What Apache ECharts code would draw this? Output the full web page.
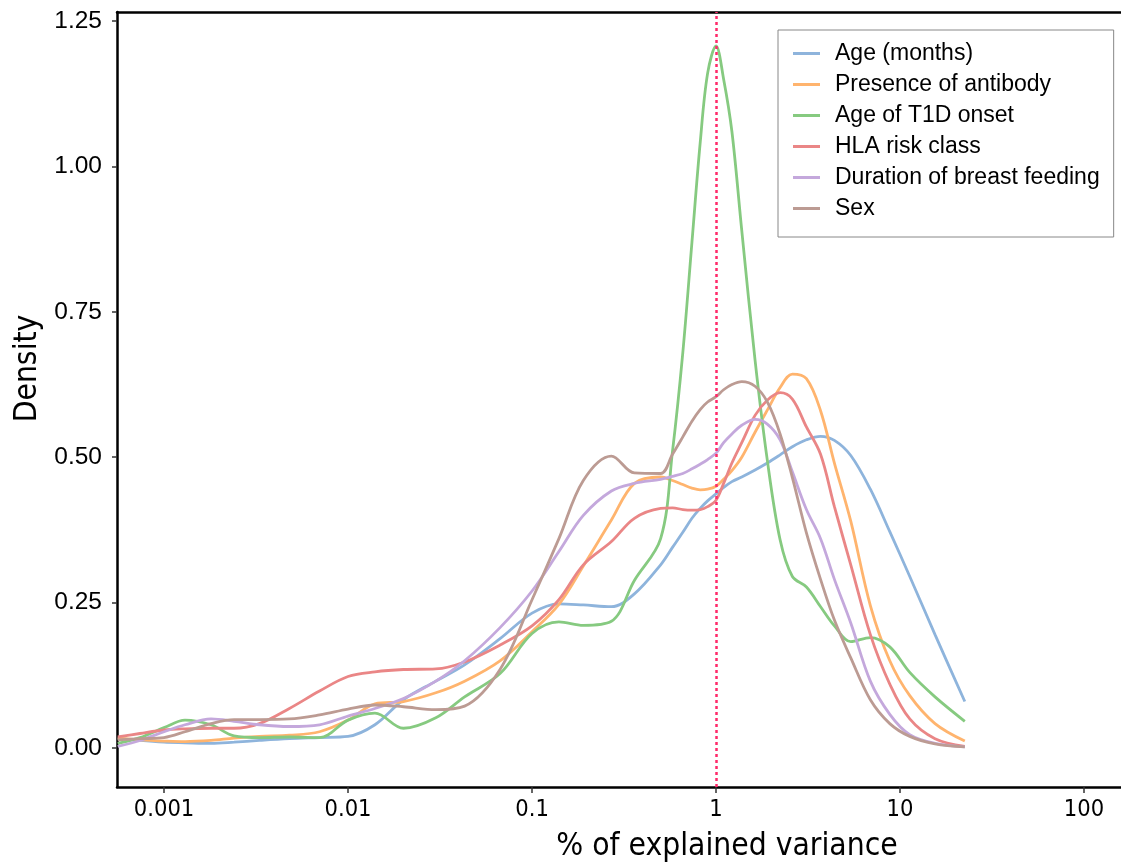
<!DOCTYPE html>
<html>
<head>
<meta charset="utf-8">
<script src="https://cdn.jsdelivr.net/npm/echarts@6/dist/echarts.min.js"></script>
<style>
  html, body { margin: 0; padding: 0; background: #fff; }
  #main { width: 1121px; height: 868px; }
</style>
</head>
<body>
<div id="main"></div>
<script>
// x positions (% of explained variance), shared by every curve
var xPct = [0.00056, 0.00074, 0.001, 0.0013, 0.0018, 0.0024, 0.0033, 0.0048, 0.007, 0.01,
  0.014, 0.02, 0.03, 0.043, 0.067, 0.1, 0.14, 0.19, 0.27, 0.36,
  0.5, 0.58, 0.66, 0.74, 0.82, 0.9, 1, 1.1, 1.22, 1.38,
  1.63, 1.9, 2.23, 2.6, 3.1, 3.7, 4.4, 5.4, 6.9, 8.8,
  11.3, 15.5, 22.5];

var ageMonths = [0.017, 0.013, 0.010, 0.009, 0.008, 0.010, 0.013, 0.016, 0.018, 0.020,
  0.040, 0.083, 0.115, 0.143, 0.188, 0.232, 0.248, 0.246, 0.243, 0.265,
  0.315, 0.345, 0.371, 0.395, 0.412, 0.425, 0.437, 0.448, 0.458, 0.466,
  0.478, 0.490, 0.504, 0.518, 0.530, 0.536, 0.529, 0.503, 0.445, 0.372,
  0.295, 0.195, 0.080];

var antibody = [0.017, 0.014, 0.012, 0.011, 0.013, 0.017, 0.020, 0.022, 0.028, 0.048,
  0.076, 0.080, 0.095, 0.115, 0.150, 0.200, 0.247, 0.313, 0.392, 0.455,
  0.466, 0.460, 0.453, 0.447, 0.444, 0.445, 0.450, 0.462, 0.477, 0.500,
  0.543, 0.581, 0.620, 0.643, 0.635, 0.580, 0.490, 0.390, 0.245, 0.150,
  0.090, 0.042, 0.012];

var t1dOnset = [0.008, 0.018, 0.035, 0.048, 0.040, 0.021, 0.018, 0.019, 0.018, 0.048,
  0.060, 0.034, 0.052, 0.088, 0.128, 0.197, 0.217, 0.211, 0.218, 0.288,
  0.360, 0.510, 0.680, 0.870, 1.040, 1.160, 1.207, 1.150, 1.060, 0.890,
  0.667, 0.495, 0.358, 0.295, 0.277, 0.243, 0.210, 0.183, 0.190, 0.174,
  0.130, 0.088, 0.046];

var hlaRisk = [0.019, 0.025, 0.031, 0.033, 0.034, 0.034, 0.042, 0.068, 0.098, 0.123,
  0.131, 0.135, 0.136, 0.148, 0.177, 0.210, 0.255, 0.315, 0.355, 0.395,
  0.412, 0.413, 0.410, 0.409, 0.410, 0.415, 0.426, 0.455, 0.490, 0.525,
  0.572, 0.598, 0.611, 0.600, 0.552, 0.505, 0.415, 0.315, 0.195, 0.110,
  0.050, 0.016, 0.003];

var breastFeeding = [0.003, 0.013, 0.028, 0.040, 0.050, 0.046, 0.040, 0.037, 0.040, 0.055,
  0.068, 0.085, 0.115, 0.150, 0.207, 0.270, 0.338, 0.400, 0.442, 0.455,
  0.462, 0.467, 0.472, 0.480, 0.488, 0.496, 0.507, 0.525, 0.540, 0.555,
  0.565, 0.557, 0.530, 0.475, 0.410, 0.360, 0.290, 0.215, 0.115, 0.058,
  0.023, 0.008, 0.002];

var sex = [0.014, 0.016, 0.018, 0.028, 0.042, 0.049, 0.049, 0.050, 0.057, 0.067,
  0.074, 0.071, 0.066, 0.072, 0.135, 0.255, 0.360, 0.460, 0.502, 0.473,
  0.472, 0.505, 0.535, 0.562, 0.582, 0.595, 0.604, 0.616, 0.625, 0.630,
  0.622, 0.595, 0.540, 0.465, 0.370, 0.290, 0.220, 0.155, 0.083, 0.042,
  0.020, 0.007, 0.002];

var seriesNames = ['Age (months)', 'Presence of antibody', 'Age of T1D onset',
  'HLA risk class', 'Duration of breast feeding', 'Sex'];
var seriesValues = [ageMonths, antibody, t1dOnset, hlaRisk, breastFeeding, sex];
var colors = ['#8eb4dc', '#ffb46e', '#86ca80', '#ea8686', '#c4a8dc', '#bc9b93'];

var xTicks = [0.001, 0.01, 0.1, 1, 10, 100];
var yTicks = [0, 0.25, 0.5, 0.75, 1, 1.25];
var refLine = 1;

var narrow = "'Liberation Sans Narrow', 'Arial Narrow', 'DejaVu Sans Condensed', sans-serif";
var regular = "'Liberation Sans', Arial, sans-serif";

var series = seriesNames.map(function (name, i) {
  var s = {
    name: name,
    type: 'line',
    data: xPct.map(function (x, j) { return [x, seriesValues[i][j]]; }),
    smooth: 0.35,
    symbol: 'none',
    showSymbol: false,
    lineStyle: { width: 2.8, color: colors[i] },
    itemStyle: { color: colors[i] },
    z: 3
  };
  if (i === 0) {
    s.markLine = {
      silent: true,
      symbol: 'none',
      label: { show: false },
      lineStyle: { color: '#ff2a6a', type: [3, 3], width: 2.5 },
      data: [{ xAxis: refLine }]
    };
  }
  return s;
});

var xMin = 0.000555, xMax = 158.9;

var chart = echarts.init(document.getElementById('main'));
chart.setOption({
  animation: false,
  backgroundColor: '#fff',
  color: colors,
  grid: { left: 117, top: 12, right: 0, bottom: 81, show: false },
  legend: {
    orient: 'vertical',
    left: 778, top: 30,
    icon: 'rect',
    itemWidth: 27, itemHeight: 3,
    itemGap: 8,
    padding: [12, 14, 17, 15],
    borderColor: '#888', borderWidth: 1, borderRadius: 0,
    backgroundColor: '#fff',
    textStyle: { fontFamily: regular, fontSize: 23, color: '#000', lineHeight: 23, padding: [0, 0, 0, 10] },
    data: seriesNames
  },
  xAxis: [{
    type: 'log',
    logBase: 10,
    min: xMin,
    max: xMax,
    name: '% of explained variance',
    nameLocation: 'middle',
    nameGap: 44,
    nameTextStyle: { fontFamily: narrow, fontSize: 31.5, color: '#000', padding: [0, 0, 0, 216] },
    axisLine: { show: true, onZero: false, lineStyle: { color: '#000', width: 2.5 } },
    axisTick: { show: true, length: 6, lineStyle: { color: '#333', width: 1.5 }, customValues: xTicks },
    axisLabel: {
      color: '#000', fontFamily: narrow, fontSize: 23.5, margin: 11,
      customValues: xTicks,
      formatter: function (v) { return String(+v.toPrecision(3)); }
    },
    splitLine: { show: false },
    minorTick: { show: false }
  }, {
    // top frame line only
    type: 'log',
    logBase: 10,
    position: 'top',
    min: xMin,
    max: xMax,
    axisLine: { show: true, onZero: false, lineStyle: { color: '#000', width: 2.5 } },
    axisTick: { show: false },
    axisLabel: { show: false },
    splitLine: { show: false }
  }],
  yAxis: {
    type: 'value',
    min: -0.067,
    max: 1.2655,
    name: 'Density',
    nameLocation: 'middle',
    nameGap: 72,
    nameTextStyle: { fontFamily: narrow, fontSize: 31.5, color: '#000', padding: [0, 0, 0, 62] },
    axisLine: { show: true, onZero: false, lineStyle: { color: '#000', width: 2.5 } },
    axisTick: { show: true, length: 5, lineStyle: { color: '#333', width: 1.5 }, customValues: yTicks },
    axisLabel: {
      color: '#000', fontFamily: regular, fontSize: 24.5, margin: 15,
      customValues: yTicks,
      formatter: function (v) { return v.toFixed(2); }
    },
    splitLine: { show: false }
  },
  series: series
});
</script>
</body>
</html>
